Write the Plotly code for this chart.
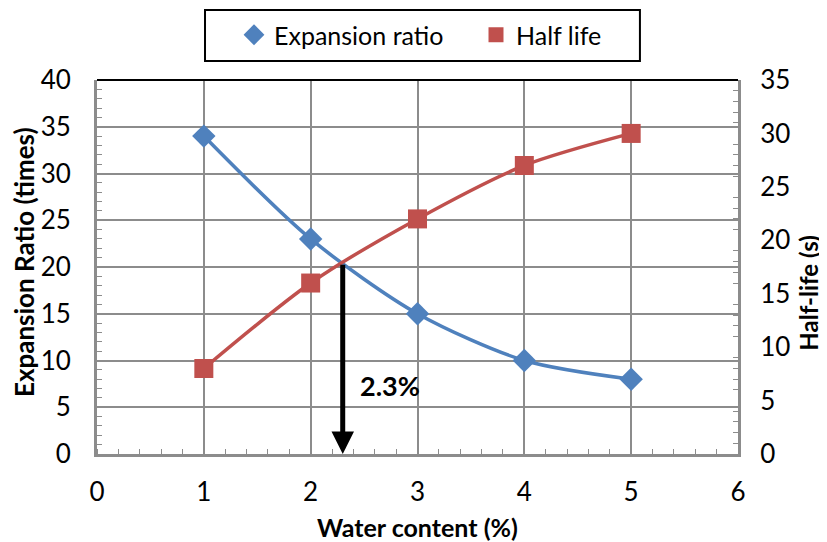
import plotly.graph_objects as go

water = [1, 2, 3, 4, 5]
expansion_ratio = [34, 23, 15, 10, 8]
half_life = [8, 16, 22, 27, 30]
arrow_x = 2.3
arrow_top = 20.4
label_text = "2.3%"

FONT = "Lato, 'Open Sans', sans-serif"
GRID = "#8c8c8c"
AXIS = "#8c8c8c"
BLUE = "#4F81BD"
RED = "#C0504D"

W, H = 819, 534

fig = go.Figure()
fig.add_trace(go.Scatter(
    x=water, y=expansion_ratio, name="Expansion ratio", mode="lines+markers",
    line=dict(color=BLUE, width=3.5, shape="spline", smoothing=0.8),
    marker=dict(symbol="diamond", size=18, color=BLUE), yaxis="y", showlegend=False))
fig.add_trace(go.Scatter(
    x=water, y=half_life, name="Half life", mode="lines+markers",
    line=dict(color=RED, width=3.5, shape="spline", smoothing=0.8),
    marker=dict(symbol="square", size=19, color=RED), yaxis="y2", showlegend=False))
# legend-only entries (markers without lines, as in the reference legend)
fig.add_trace(go.Scatter(x=[None], y=[None], name="Expansion ratio", mode="markers",
                         marker=dict(symbol="diamond", size=16, color=BLUE)))
fig.add_trace(go.Scatter(x=[None], y=[None], name="Half life", mode="markers",
                         marker=dict(symbol="square", size=15, color=RED)))

fig.add_annotation(x=arrow_x, y=0, ax=arrow_x, ay=arrow_top, xref="x", yref="y",
                   axref="x", ayref="y", showarrow=True, arrowhead=2, arrowsize=0.9,
                   arrowwidth=5, arrowcolor="black", text="")
fig.add_annotation(x=2.74, y=7.3, xref="x", yref="y", text="<b>" + label_text + "</b>",
                   showarrow=False, font=dict(family=FONT, size=27, color="black"))

# axis titles as annotations for exact placement
fig.add_annotation(x=0.5, y=-0.195, xref="paper", yref="paper", showarrow=False,
                   text="<b>Water content (%)</b>", font=dict(family=FONT, size=25),
                   xanchor="center", yanchor="middle")
fig.add_annotation(x=-0.1140, y=0.513, xref="paper", yref="paper", showarrow=False,
                   text="<b>Expansion Ratio (times)</b>", font=dict(family=FONT, size=26),
                   textangle=-90, xanchor="center", yanchor="middle")
fig.add_annotation(x=1.110, y=0.43, xref="paper", yref="paper", showarrow=False,
                   text="<b>Half-life (s)</b>", font=dict(family=FONT, size=24),
                   textangle=-90, xanchor="center", yanchor="middle")

fig.update_layout(
    width=W, height=H,
    margin=dict(l=89, r=89, t=72, b=88, autoexpand=False),
    paper_bgcolor="white", plot_bgcolor="white",
    font=dict(family=FONT, size=26, color="black"),
    showlegend=True,
    legend=dict(orientation="h", xref="container", yref="container",
                x=226 / W, xanchor="left", y=1 - 4 / H, yanchor="top",
                borderwidth=0, bgcolor="rgba(0,0,0,0)", font=dict(size=25),
                itemwidth=30, entrywidth=197, tracegroupgap=0),
    xaxis=dict(range=[0, 6], tickvals=[0, 1, 2, 3, 4, 5, 6], showgrid=True,
               gridcolor=GRID, gridwidth=2, showline=True, linecolor=AXIS, linewidth=3,
               ticks="", zeroline=False, automargin=False,
               minor=dict(dtick=0.2, ticks="inside", ticklen=5, tickcolor=AXIS, showgrid=False),
               ticklabelstandoff=13),
    yaxis=dict(range=[0, 40], dtick=5, showgrid=True, gridcolor=GRID, gridwidth=2,
               showline=True, linecolor=AXIS, linewidth=3, ticks="", zeroline=False,
               automargin=False,
               minor=dict(dtick=1, ticks="inside", ticklen=5, tickcolor=AXIS, showgrid=False),
               ticklabelstandoff=18),
    yaxis2=dict(range=[0, 35], dtick=5, overlaying="y", side="right", showgrid=False,
                showline=True, linecolor=AXIS, linewidth=3, ticks="", zeroline=False,
                automargin=False,
                minor=dict(dtick=1, ticks="inside", ticklen=5, tickcolor=AXIS),
                ticklabelstandoff=14),
)
# top border of plot area
fig.add_shape(type="line", xref="paper", yref="paper", x0=0, x1=1, y0=1, y1=1,
              line=dict(color="black", width=2))
# legend frame
fig.add_shape(type="rect", xref="paper", yref="paper", x0=0.1685, x1=0.847,
              y0=1.051, y1=1.187, line=dict(color="black", width=2), fillcolor="rgba(0,0,0,0)")
fig.write_html("out.html")
